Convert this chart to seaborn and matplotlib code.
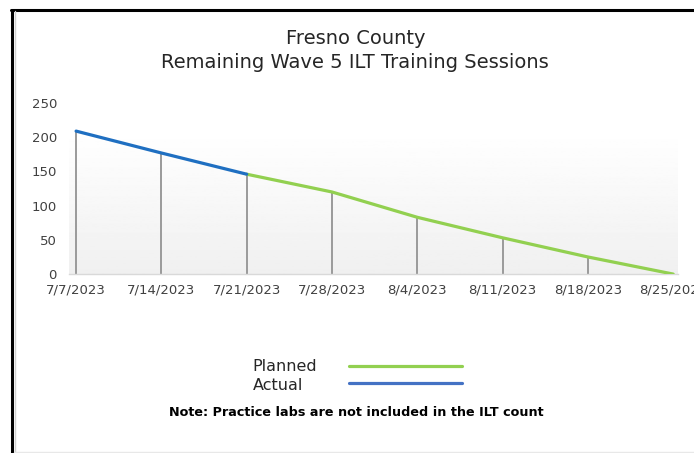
import matplotlib
matplotlib.use("Agg")
import matplotlib.pyplot as plt
import matplotlib.dates as mdates
from matplotlib.lines import Line2D
import numpy as np
import pandas as pd
import seaborn as sns

# Data
lstDates = ["2023-07-07", "2023-07-14", "2023-07-21", "2023-07-28",
            "2023-08-04", "2023-08-11", "2023-08-18", "2023-08-25"]
lstActual = [209, 177, 146, None, None, None, None, None]
lstPlanned = [None, None, 146, 120, 83, 53, 25, 0]
lstYTicks = [0, 50, 100, 150, 200, 250]

sTitle = "Fresno County\nRemaining Wave 5 ILT Training Sessions"
sNote = "Note: Practice labs are not included in the ILT count"
dctColors = {"Planned": "#92D050", "Actual": "#1F6FC1"}
dctLegendColors = {"Planned": "#92D050", "Actual": "#4472C4"}

arrDates = pd.to_datetime(lstDates)
dfData = pd.DataFrame({"Date": arrDates, "Planned": lstPlanned, "Actual": lstActual})
dfLong = dfData.melt(id_vars="Date", var_name="Series", value_name="Sessions").dropna()

sns.set_style("white")
plt.rcParams["font.family"] = ["DejaVu Sans"]

fig = plt.figure(figsize=(6.94, 4.53), dpi=100)
ax = fig.add_axes([0.1, 0.395, 0.877, 0.3775])

# Drop lines from each point to the axis
dfTop = dfLong.groupby("Date")["Sessions"].max()
ax.vlines(dfTop.index, 0, dfTop.values, color="#9a9a9a", lw=1.4, zorder=2)

sns.lineplot(data=dfLong, x="Date", y="Sessions", hue="Series", palette=dctColors,
             lw=2.3, legend=False, ax=ax, zorder=3)

# Limits
fXMin = mdates.date2num(arrDates[0]) - 0.55
fXMax = mdates.date2num(arrDates[-1]) + 0.4

# Gradient plot background
arrGrad = np.linspace(1.0, 0.94, 100).reshape(-1, 1)
ax.imshow(arrGrad, cmap="gray", vmin=0, vmax=1, aspect="auto",
          extent=[fXMin, fXMax, 0, 210], zorder=0, origin="upper")
ax.set_xlim(fXMin, fXMax)
ax.set_ylim(0, 250)

# Axes styling
for sSide in ["top", "right", "left"]:
    ax.spines[sSide].set_visible(False)
ax.spines["bottom"].set_color("#d9d9d9")
ax.spines["bottom"].set_linewidth(1.0)
ax.set_yticks(lstYTicks)
ax.set_xticks(mdates.date2num(arrDates))
ax.set_xticklabels([f"{d.month}/{d.day}/{d.year}" for d in arrDates])
ax.set_xticks(mdates.date2num(arrDates) - 0.5, minor=True)
ax.tick_params(axis="x", which="major", length=0, pad=7, labelsize=9.5, labelcolor="#404040")
ax.tick_params(axis="x", which="minor", length=4, width=1, color="#d9d9d9")
ax.tick_params(axis="y", length=0, pad=9, labelsize=9.5, labelcolor="#404040")
ax.set_xlabel("")
ax.set_ylabel("")
ax.grid(False)

# Title
fig.text(0.512, 0.889, sTitle, ha="center", va="center", fontsize=14,
         color="#262626", linespacing=1.3)

# Legend (label then line)
lstLegendY = [0.19, 0.148]
lstLineY = [0.192, 0.155]
for sName, fY, fLY in zip(["Planned", "Actual"], lstLegendY, lstLineY):
    fig.text(0.364, fY, sName, ha="left", va="center", fontsize=11.5, color="#262626")
    fig.add_artist(Line2D([0.503, 0.665], [fLY, fLY],
                          color=dctLegendColors[sName], lw=2.3, transform=fig.transFigure))

# Note
fig.text(0.514, 0.09, sNote, ha="center", va="center", fontsize=9.2,
         fontweight="bold", color="#000000")

# Frame border
fig.add_artist(Line2D([0.0175, 0.0175], [0.0, 0.979], color="black", lw=2.2,
                      transform=fig.transFigure))
fig.add_artist(Line2D([0.0165, 1.0], [0.979, 0.979], color="black", lw=2.2,
                      transform=fig.transFigure))
fig.add_artist(Line2D([0.0215, 0.0215], [0.0, 0.975], color="#d0d0d0", lw=1,
                      transform=fig.transFigure))
fig.add_artist(Line2D([0.02, 1.0], [0.002, 0.002], color="#e8e8e8", lw=1,
                      transform=fig.transFigure))

fig.savefig("out.png", dpi=100)
plt.close(fig)
